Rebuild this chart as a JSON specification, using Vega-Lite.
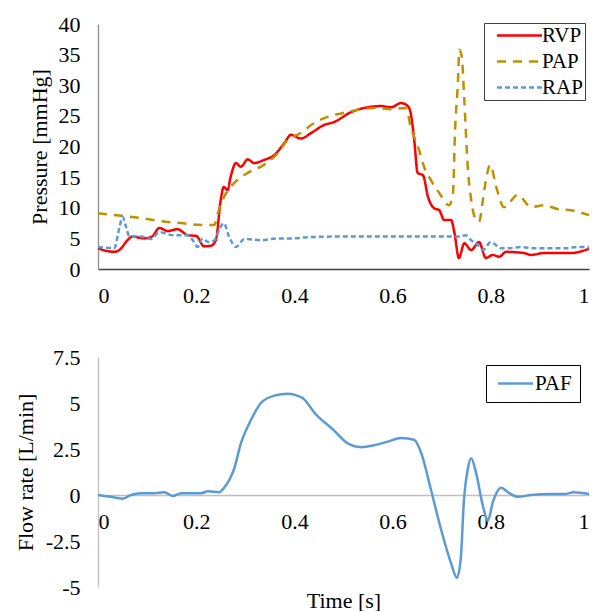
{
  "$schema": "https://vega.github.io/schema/vega-lite/v6.json",
  "background": "white",
  "padding": {"left": 13, "top": 13, "right": 0, "bottom": 0},
  "config": {
    "font": "Liberation Serif",
    "view": {"stroke": null},
    "axis": {
      "labelFont": "Liberation Serif",
      "titleFont": "Liberation Serif",
      "labelFontSize": 22,
      "titleFontSize": 22,
      "titleFontWeight": "normal",
      "labelColor": "#000000",
      "titleColor": "#000000",
      "grid": false,
      "ticks": false
    },
    "legend": {
      "labelFont": "Liberation Serif",
      "labelColor": "#000000",
      "labelFontSize": 21
    }
  },
  "datasets": {
    "pressure": [
      {"t": 0, "v": 3.4, "s": "RVP"},
      {"t": 0.015, "v": 3.0, "s": "RVP"},
      {"t": 0.033, "v": 2.8, "s": "RVP"},
      {"t": 0.045, "v": 3.2, "s": "RVP"},
      {"t": 0.06, "v": 4.7, "s": "RVP"},
      {"t": 0.07, "v": 5.3, "s": "RVP"},
      {"t": 0.094, "v": 5.0, "s": "RVP"},
      {"t": 0.11, "v": 5.3, "s": "RVP"},
      {"t": 0.125, "v": 6.7, "s": "RVP"},
      {"t": 0.142, "v": 6.2, "s": "RVP"},
      {"t": 0.162, "v": 6.5, "s": "RVP"},
      {"t": 0.183, "v": 5.5, "s": "RVP"},
      {"t": 0.2, "v": 5.4, "s": "RVP"},
      {"t": 0.216, "v": 3.7, "s": "RVP"},
      {"t": 0.23, "v": 3.8, "s": "RVP"},
      {"t": 0.24, "v": 4.7, "s": "RVP"},
      {"t": 0.25, "v": 11.3, "s": "RVP"},
      {"t": 0.256, "v": 13.4, "s": "RVP"},
      {"t": 0.264, "v": 12.9, "s": "RVP"},
      {"t": 0.27, "v": 15.0, "s": "RVP"},
      {"t": 0.281, "v": 17.3, "s": "RVP"},
      {"t": 0.291, "v": 16.7, "s": "RVP"},
      {"t": 0.305, "v": 17.9, "s": "RVP"},
      {"t": 0.318, "v": 17.3, "s": "RVP"},
      {"t": 0.338, "v": 17.8, "s": "RVP"},
      {"t": 0.359, "v": 18.6, "s": "RVP"},
      {"t": 0.379, "v": 20.5, "s": "RVP"},
      {"t": 0.393, "v": 21.9, "s": "RVP"},
      {"t": 0.413, "v": 21.3, "s": "RVP"},
      {"t": 0.434, "v": 22.2, "s": "RVP"},
      {"t": 0.46, "v": 23.5, "s": "RVP"},
      {"t": 0.481, "v": 24.0, "s": "RVP"},
      {"t": 0.515, "v": 25.6, "s": "RVP"},
      {"t": 0.55, "v": 26.4, "s": "RVP"},
      {"t": 0.576, "v": 26.6, "s": "RVP"},
      {"t": 0.597, "v": 26.4, "s": "RVP"},
      {"t": 0.617, "v": 27.1, "s": "RVP"},
      {"t": 0.631, "v": 26.6, "s": "RVP"},
      {"t": 0.637, "v": 25.4, "s": "RVP"},
      {"t": 0.644, "v": 21.1, "s": "RVP"},
      {"t": 0.651, "v": 15.7, "s": "RVP"},
      {"t": 0.662, "v": 15.3, "s": "RVP"},
      {"t": 0.672, "v": 11.8, "s": "RVP"},
      {"t": 0.685, "v": 9.9, "s": "RVP"},
      {"t": 0.695, "v": 9.6, "s": "RVP"},
      {"t": 0.705, "v": 8.0, "s": "RVP"},
      {"t": 0.719, "v": 8.0, "s": "RVP"},
      {"t": 0.726, "v": 5.9, "s": "RVP"},
      {"t": 0.735, "v": 1.8, "s": "RVP"},
      {"t": 0.746, "v": 4.2, "s": "RVP"},
      {"t": 0.76, "v": 3.1, "s": "RVP"},
      {"t": 0.776, "v": 4.4, "s": "RVP"},
      {"t": 0.79, "v": 1.8, "s": "RVP"},
      {"t": 0.804, "v": 2.3, "s": "RVP"},
      {"t": 0.817, "v": 2.0, "s": "RVP"},
      {"t": 0.831, "v": 2.8, "s": "RVP"},
      {"t": 0.868, "v": 2.6, "s": "RVP"},
      {"t": 0.882, "v": 2.3, "s": "RVP"},
      {"t": 0.908, "v": 2.6, "s": "RVP"},
      {"t": 0.963, "v": 2.6, "s": "RVP"},
      {"t": 1.0, "v": 3.3, "s": "RVP"},
      {"t": 0, "v": 9.1, "s": "PAP"},
      {"t": 0.047, "v": 8.7, "s": "PAP"},
      {"t": 0.088, "v": 8.3, "s": "PAP"},
      {"t": 0.128, "v": 7.8, "s": "PAP"},
      {"t": 0.169, "v": 7.5, "s": "PAP"},
      {"t": 0.21, "v": 7.2, "s": "PAP"},
      {"t": 0.237, "v": 7.2, "s": "PAP"},
      {"t": 0.244, "v": 9.1, "s": "PAP"},
      {"t": 0.257, "v": 11.8, "s": "PAP"},
      {"t": 0.277, "v": 14.0, "s": "PAP"},
      {"t": 0.305, "v": 15.7, "s": "PAP"},
      {"t": 0.338, "v": 17.0, "s": "PAP"},
      {"t": 0.366, "v": 18.9, "s": "PAP"},
      {"t": 0.387, "v": 21.1, "s": "PAP"},
      {"t": 0.4, "v": 21.7, "s": "PAP"},
      {"t": 0.413, "v": 22.2, "s": "PAP"},
      {"t": 0.434, "v": 23.5, "s": "PAP"},
      {"t": 0.46, "v": 24.6, "s": "PAP"},
      {"t": 0.495, "v": 25.4, "s": "PAP"},
      {"t": 0.53, "v": 26.0, "s": "PAP"},
      {"t": 0.562, "v": 26.3, "s": "PAP"},
      {"t": 0.597, "v": 26.1, "s": "PAP"},
      {"t": 0.627, "v": 26.3, "s": "PAP"},
      {"t": 0.637, "v": 23.2, "s": "PAP"},
      {"t": 0.654, "v": 19.4, "s": "PAP"},
      {"t": 0.664, "v": 16.7, "s": "PAP"},
      {"t": 0.678, "v": 14.5, "s": "PAP"},
      {"t": 0.695, "v": 12.4, "s": "PAP"},
      {"t": 0.715, "v": 10.4, "s": "PAP"},
      {"t": 0.723, "v": 12.4, "s": "PAP"},
      {"t": 0.727, "v": 22.2, "s": "PAP"},
      {"t": 0.733, "v": 30.4, "s": "PAP"},
      {"t": 0.736, "v": 35.8, "s": "PAP"},
      {"t": 0.741, "v": 34.6, "s": "PAP"},
      {"t": 0.746, "v": 27.6, "s": "PAP"},
      {"t": 0.753, "v": 16.7, "s": "PAP"},
      {"t": 0.76, "v": 11.3, "s": "PAP"},
      {"t": 0.77, "v": 8.0, "s": "PAP"},
      {"t": 0.776, "v": 7.7, "s": "PAP"},
      {"t": 0.784, "v": 11.3, "s": "PAP"},
      {"t": 0.79, "v": 14.5, "s": "PAP"},
      {"t": 0.799, "v": 17.0, "s": "PAP"},
      {"t": 0.811, "v": 13.4, "s": "PAP"},
      {"t": 0.827, "v": 10.1, "s": "PAP"},
      {"t": 0.855, "v": 12.1, "s": "PAP"},
      {"t": 0.882, "v": 10.1, "s": "PAP"},
      {"t": 0.908, "v": 10.4, "s": "PAP"},
      {"t": 0.936, "v": 9.8, "s": "PAP"},
      {"t": 0.963, "v": 9.6, "s": "PAP"},
      {"t": 1.0, "v": 8.8, "s": "PAP"},
      {"t": 0, "v": 3.6, "s": "RAP"},
      {"t": 0.033, "v": 3.4, "s": "RAP"},
      {"t": 0.044, "v": 6.9, "s": "RAP"},
      {"t": 0.05, "v": 8.5, "s": "RAP"},
      {"t": 0.057, "v": 6.9, "s": "RAP"},
      {"t": 0.064, "v": 5.3, "s": "RAP"},
      {"t": 0.088, "v": 5.3, "s": "RAP"},
      {"t": 0.108, "v": 4.9, "s": "RAP"},
      {"t": 0.125, "v": 6.0, "s": "RAP"},
      {"t": 0.155, "v": 5.5, "s": "RAP"},
      {"t": 0.183, "v": 5.5, "s": "RAP"},
      {"t": 0.193, "v": 4.7, "s": "RAP"},
      {"t": 0.203, "v": 3.6, "s": "RAP"},
      {"t": 0.213, "v": 5.0, "s": "RAP"},
      {"t": 0.224, "v": 4.4, "s": "RAP"},
      {"t": 0.237, "v": 4.7, "s": "RAP"},
      {"t": 0.247, "v": 6.4, "s": "RAP"},
      {"t": 0.256, "v": 7.5, "s": "RAP"},
      {"t": 0.267, "v": 5.3, "s": "RAP"},
      {"t": 0.281, "v": 3.6, "s": "RAP"},
      {"t": 0.298, "v": 4.9, "s": "RAP"},
      {"t": 0.332, "v": 4.7, "s": "RAP"},
      {"t": 0.366, "v": 5.0, "s": "RAP"},
      {"t": 0.4, "v": 5.0, "s": "RAP"},
      {"t": 0.427, "v": 5.2, "s": "RAP"},
      {"t": 0.5, "v": 5.3, "s": "RAP"},
      {"t": 0.6, "v": 5.3, "s": "RAP"},
      {"t": 0.719, "v": 5.3, "s": "RAP"},
      {"t": 0.735, "v": 5.3, "s": "RAP"},
      {"t": 0.749, "v": 5.5, "s": "RAP"},
      {"t": 0.76, "v": 4.7, "s": "RAP"},
      {"t": 0.774, "v": 3.9, "s": "RAP"},
      {"t": 0.784, "v": 3.1, "s": "RAP"},
      {"t": 0.8, "v": 4.4, "s": "RAP"},
      {"t": 0.821, "v": 3.4, "s": "RAP"},
      {"t": 0.841, "v": 3.4, "s": "RAP"},
      {"t": 0.862, "v": 3.6, "s": "RAP"},
      {"t": 0.882, "v": 3.4, "s": "RAP"},
      {"t": 0.95, "v": 3.4, "s": "RAP"},
      {"t": 0.98, "v": 3.6, "s": "RAP"},
      {"t": 1.0, "v": 3.6, "s": "RAP"}
    ],
    "flow": [
      {"t": 0, "v": 0, "s": "PAF"},
      {"t": 0.025, "v": -0.1, "s": "PAF"},
      {"t": 0.05, "v": -0.2, "s": "PAF"},
      {"t": 0.067, "v": 0, "s": "PAF"},
      {"t": 0.088, "v": 0.1, "s": "PAF"},
      {"t": 0.115, "v": 0.1, "s": "PAF"},
      {"t": 0.135, "v": 0.15, "s": "PAF"},
      {"t": 0.152, "v": -0.05, "s": "PAF"},
      {"t": 0.169, "v": 0.1, "s": "PAF"},
      {"t": 0.21, "v": 0.1, "s": "PAF"},
      {"t": 0.224, "v": 0.2, "s": "PAF"},
      {"t": 0.247, "v": 0.15, "s": "PAF"},
      {"t": 0.257, "v": 0.4, "s": "PAF"},
      {"t": 0.267, "v": 0.8, "s": "PAF"},
      {"t": 0.277, "v": 1.4, "s": "PAF"},
      {"t": 0.291, "v": 2.8, "s": "PAF"},
      {"t": 0.312, "v": 4.1, "s": "PAF"},
      {"t": 0.332, "v": 5.0, "s": "PAF"},
      {"t": 0.359, "v": 5.4, "s": "PAF"},
      {"t": 0.387, "v": 5.5, "s": "PAF"},
      {"t": 0.4, "v": 5.45, "s": "PAF"},
      {"t": 0.42, "v": 5.2, "s": "PAF"},
      {"t": 0.44, "v": 4.5, "s": "PAF"},
      {"t": 0.481, "v": 3.5, "s": "PAF"},
      {"t": 0.509, "v": 2.8, "s": "PAF"},
      {"t": 0.536, "v": 2.6, "s": "PAF"},
      {"t": 0.562, "v": 2.7, "s": "PAF"},
      {"t": 0.59, "v": 2.9, "s": "PAF"},
      {"t": 0.617, "v": 3.1, "s": "PAF"},
      {"t": 0.644, "v": 3.0, "s": "PAF"},
      {"t": 0.658, "v": 2.3, "s": "PAF"},
      {"t": 0.678, "v": 0.3, "s": "PAF"},
      {"t": 0.699, "v": -1.9, "s": "PAF"},
      {"t": 0.719, "v": -3.7, "s": "PAF"},
      {"t": 0.731, "v": -4.5, "s": "PAF"},
      {"t": 0.739, "v": -3.4, "s": "PAF"},
      {"t": 0.745, "v": -0.4, "s": "PAF"},
      {"t": 0.753, "v": 1.4, "s": "PAF"},
      {"t": 0.76, "v": 2.0, "s": "PAF"},
      {"t": 0.77, "v": 1.2, "s": "PAF"},
      {"t": 0.784, "v": -0.6, "s": "PAF"},
      {"t": 0.794, "v": -1.4, "s": "PAF"},
      {"t": 0.804, "v": -0.4, "s": "PAF"},
      {"t": 0.821, "v": 0.4, "s": "PAF"},
      {"t": 0.835, "v": 0.15, "s": "PAF"},
      {"t": 0.855, "v": -0.1, "s": "PAF"},
      {"t": 0.882, "v": 0, "s": "PAF"},
      {"t": 0.92, "v": 0.05, "s": "PAF"},
      {"t": 0.95, "v": 0.05, "s": "PAF"},
      {"t": 0.969, "v": 0.15, "s": "PAF"},
      {"t": 1.0, "v": 0.05, "s": "PAF"}
    ]
  },
  "bounds": "flush",
  "spacing": 88,
  "vconcat": [
    {
      "width": 491,
      "height": 245,
      "data": {"name": "pressure"},
      "mark": {"type": "line", "strokeWidth": 2.5, "interpolate": "monotone"},
      "encoding": {
        "x": {
          "field": "t", "type": "quantitative",
          "scale": {"domain": [0, 1], "nice": false},
          "axis": {"title": null, "values": [0, 0.2, 0.4, 0.6, 0.8, 1], "labelExpr": "datum.value + ''", "labelFont": "Liberation Serif", "domainColor": "#404040", "domainWidth": 1.3, "labelPadding": 16}
        },
        "y": {
          "field": "v", "type": "quantitative",
          "scale": {"domain": [0, 40], "nice": false},
          "axis": {"title": "Pressure [mmHg]", "values": [0, 5, 10, 15, 20, 25, 30, 35, 40], "labelFont": "Liberation Serif", "titleFont": "Liberation Serif", "domainColor": "#8c8c8c", "domainWidth": 1.3, "labelPadding": 18, "titleX": -59, "titleBaseline": "middle"}
        },
        "color": {
          "field": "s", "type": "nominal",
          "scale": {"domain": ["RVP", "PAP", "RAP"], "range": ["#ff0000", "#bf9000", "#5b9bd5"]},
          "legend": {"title": null, "orient": "none", "legendX": 386, "legendY": -1, "strokeColor": "#404040", "fillColor": "white", "padding": 2, "symbolType": "M-2.5,0H2.5", "symbolSize": 324, "symbolStrokeWidth": 2.5, "symbolOffset": 23, "labelOffset": 12, "rowPadding": 4, "labelFont": "Liberation Serif", "labelFontSize": 21}
        },
        "strokeDash": {
          "field": "s", "type": "nominal",
          "scale": {"domain": ["RVP", "PAP", "RAP"], "range": [[1, 0], [9, 7], [5, 3]]},
          "legend": {"title": null, "orient": "none", "legendX": 386, "legendY": -1, "strokeColor": "#404040", "fillColor": "white", "padding": 2, "symbolType": "M-2.5,0H2.5", "symbolSize": 324, "symbolStrokeWidth": 2.5, "symbolOffset": 23, "labelOffset": 12, "rowPadding": 4, "labelFont": "Liberation Serif", "labelFontSize": 21}
        }
      }
    },
    {
      "width": 491,
      "height": 230,
      "data": {"name": "flow"},
      "mark": {"type": "line", "strokeWidth": 2.5, "interpolate": "monotone"},
      "encoding": {
        "x": {
          "field": "t", "type": "quantitative",
          "scale": {"domain": [0, 1], "nice": false},
          "axis": {"title": "Time [s]", "values": [0, 0.2, 0.4, 0.6, 0.8, 1], "labelExpr": "datum.value + ''", "labelFont": "Liberation Serif", "titleFont": "Liberation Serif", "offset": -92, "domainColor": "#bfbfbf", "domainWidth": 1.3, "labelPadding": 16, "titleY": 105, "titleBaseline": "middle"}
        },
        "y": {
          "field": "v", "type": "quantitative",
          "scale": {"domain": [-5, 7.5], "nice": false},
          "axis": {"title": "Flow rate [L/min]", "values": [-5, -2.5, 0, 2.5, 5, 7.5], "labelExpr": "datum.value + ''", "labelFont": "Liberation Serif", "titleFont": "Liberation Serif", "domainColor": "#bfbfbf", "domainWidth": 1.3, "labelPadding": 18, "titleX": -73, "titleBaseline": "middle"}
        },
        "color": {
          "field": "s", "type": "nominal",
          "scale": {"domain": ["PAF"], "range": ["#5b9bd5"]},
          "legend": {"title": null, "orient": "none", "legendX": 388, "legendY": 8, "strokeColor": "#000000", "fillColor": "white", "padding": 8, "symbolType": "M-2.5,0H2.5", "symbolSize": 196, "symbolStrokeWidth": 2.5, "symbolOffset": 11, "labelOffset": 9, "labelFont": "Liberation Serif", "labelFontSize": 21}
        }
      }
    }
  ],
  "resolve": {
    "scale": {"color": "independent", "strokeDash": "independent", "x": "independent", "y": "independent"},
    "legend": {"color": "independent", "strokeDash": "independent"}
  }
}
